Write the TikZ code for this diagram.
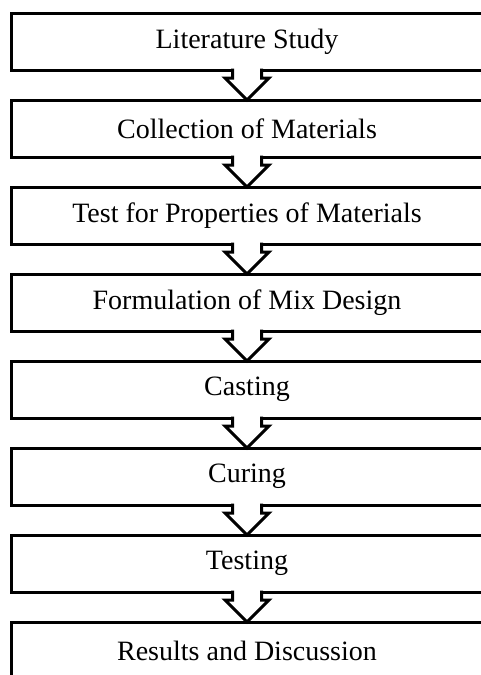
\documentclass[tikz,border=0pt]{standalone}
\usepackage{fontspec}
\setmainfont{Liberation Serif}
\usetikzlibrary{positioning, calc}
\tikzstyle{block} = [rectangle, draw, line width=3pt, fill=white, text centered, outer sep=0pt, minimum height=57pt, minimum width=472pt, font=\fontsize{28}{33}\selectfont]
\tikzstyle{blockarrow} = [draw, fill=white, line width=3pt, miter limit=4, to path={($(\tikztostart.south)+(-14.5,1.5)$) -- ++(0,-9.5) -- ++(-7.5,0) -- (\tikztotarget.north) -- ($(\tikztostart.south)+(22,-8)$) -- ++(-7.5,0) -- ++(0,9.5)}]

\begin{document}
\begin{tikzpicture}[x=1pt, y=1pt, node distance=30pt]
        \useasboundingbox (0,0) rectangle (480,-675);
        % Nodes (blocks) in a vertical column
        \node (lit) [block] at (247,-41.5) {Literature Study};
        \node (collect) [block, below=of lit] {Collection of Materials};
        \node (props) [block, below=of collect] {Test for Properties of Materials};
        \node (mix) [block, below=of props] {Formulation of Mix Design};
        \node (cast) [block, below=of mix] {Casting};
        \node (cure) [block, below=of cast] {Curing};
        \node (test) [block, below=of cure] {Testing};
        \node (results) [block, below=of test] {Results and Discussion};

        % Block arrows between the steps
        \path [blockarrow] (lit) to (collect);
        \path [blockarrow] (collect) to (props);
        \path [blockarrow] (props) to (mix);
        \path [blockarrow] (mix) to (cast);
        \path [blockarrow] (cast) to (cure);
        \path [blockarrow] (cure) to (test);
        \path [blockarrow] (test) to (results);
    \end{tikzpicture}
\end{document}
